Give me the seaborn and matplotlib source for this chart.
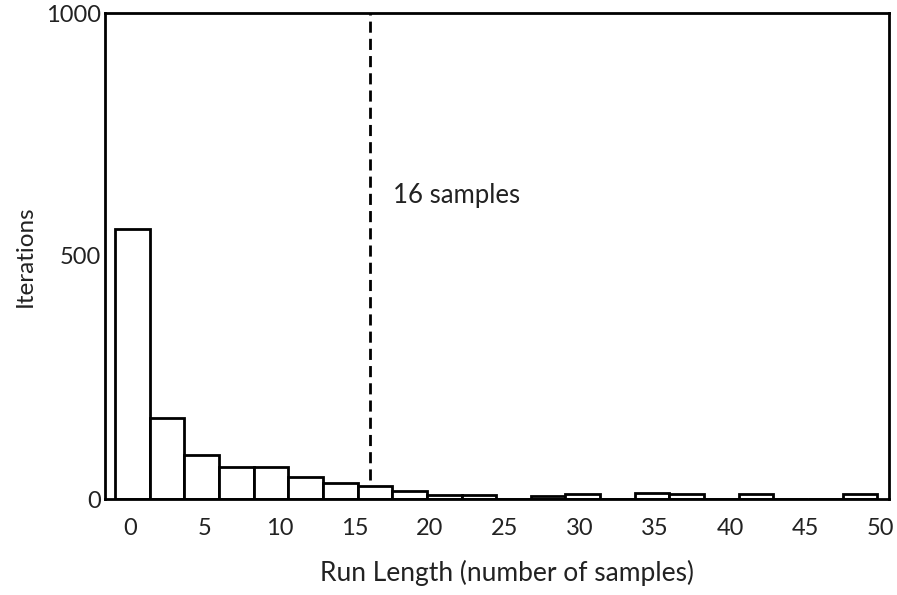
import matplotlib
matplotlib.use("Agg")
import matplotlib.pyplot as plt
import seaborn as sns
import numpy as np
import pandas as pd

# Data
bin_start = -1.0
bin_width = 2.31
bin_centers = [0.16, 2.47, 4.78, 7.09, 9.40, 11.71, 14.02, 16.33, 18.64, 20.95, 23.26,
               25.57, 27.88, 30.19, 32.50, 34.81, 37.12, 39.43, 41.74, 44.05, 46.36, 48.67]
iterations = [555, 167, 91, 66, 66, 45, 33, 26, 17, 8, 9,
              0, 6, 10, 0, 12, 10, 0, 10, 0, 0, 10]
threshold = 16
threshold_label = "16 samples"
x_ticks = [0, 5, 10, 15, 20, 25, 30, 35, 40, 45, 50]
y_ticks = [0, 500, 1000]
x_label = "Run Length (number of samples)"
y_label = "Iterations"

df = pd.DataFrame({"run_length": bin_centers, "iterations": iterations})

sns.set_theme(style="white")
plt.rcParams["font.family"] = ["Lato", "DejaVu Sans"]

fig = plt.figure(figsize=(8.97, 5.95), dpi=100)
ax = fig.add_axes([105/897, 1 - 499/595, (889-105)/897, (499-13)/595])

n_bins = len(bin_centers)
sns.histplot(data=df, x="run_length", weights="iterations",
             binwidth=bin_width, binrange=(bin_start, bin_start + n_bins * bin_width),
             color="white", edgecolor="black", linewidth=2.0, alpha=1.0, ax=ax)

ax.vlines(threshold, 40, 1000, colors="black", linewidth=2.0,
          linestyles=(0, (4, 2.2)), zorder=3)
ax.text(threshold + 1.5, 625, threshold_label, ha="left", va="center",
        fontsize=18.5, color="#222222")

ax.set_xlim(-1.667, 50.6)
ax.set_ylim(0, 1000)
ax.set_xticks(x_ticks)
ax.set_yticks(y_ticks)
ax.tick_params(axis="x", length=0, pad=14, labelsize=17, labelcolor="#222222")
ax.tick_params(axis="y", length=0, pad=3, labelsize=17, labelcolor="#222222")

ax.set_xlabel(x_label, fontsize=19, color="#222222")
ax.set_ylabel(y_label, fontsize=17.5, color="#222222")
ax.xaxis.set_label_coords(0.513, -0.125)
ax.yaxis.set_label_coords(-0.088, 0.5)

for s in ax.spines.values():
    s.set_visible(True)
    s.set_color("black")
    s.set_linewidth(2.0)

fig.savefig("out.png", dpi=100, facecolor="white")
